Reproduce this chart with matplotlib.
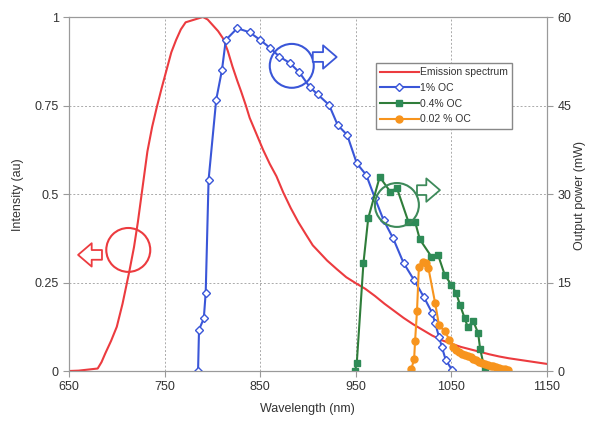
import matplotlib
matplotlib.use("Agg")
import matplotlib.pyplot as plt
import matplotlib.patches as mpatches
from matplotlib.ticker import FuncFormatter

plt.rcParams['font.family'] = ['Liberation Sans', 'DejaVu Sans']

# Emission spectrum (normalised intensity)
em_wl = [650, 660, 670, 680, 684, 688, 694, 700, 706, 713, 718, 722, 727, 732, 737,
         742, 747, 752, 757, 762, 767, 772, 778, 784, 790, 795, 800, 806, 811, 816,
         821, 826, 830, 835, 839, 846, 853, 860, 867, 874, 882, 890, 898, 905, 912,
         920, 930, 940, 950, 960, 970, 980, 990, 1000, 1010, 1020, 1030, 1040, 1050,
         1060, 1070, 1080, 1090, 1100, 1110, 1120, 1130, 1140, 1150]
em_int = [0.0, 0.001, 0.004, 0.007, 0.025, 0.05, 0.085, 0.125, 0.19, 0.28, 0.35, 0.42,
          0.52, 0.62, 0.69, 0.747, 0.80, 0.85, 0.90, 0.935, 0.965, 0.985, 0.99, 0.995,
          1.0, 0.993, 0.978, 0.96, 0.94, 0.905, 0.86, 0.82, 0.79, 0.75, 0.715, 0.67,
          0.625, 0.585, 0.55, 0.505, 0.46, 0.42, 0.385, 0.355, 0.335, 0.312, 0.288,
          0.265, 0.248, 0.232, 0.212, 0.19, 0.17, 0.15, 0.132, 0.116, 0.10, 0.087,
          0.077, 0.068, 0.061, 0.054, 0.047, 0.041, 0.036, 0.032, 0.028, 0.024, 0.02]

# 1% OC output power (mW)
oc1_wl = [785, 786, 791, 793, 796, 804, 810, 814, 826, 839, 850, 860, 870, 881, 891,
          902, 910, 922, 931, 941, 951, 961, 970, 979, 989, 1000, 1011, 1021, 1030,
          1033, 1037, 1040, 1044, 1051]
oc1_pw = [0, 7.0, 8.9, 13.3, 32.4, 46.0, 51.0, 56.1, 58.1, 57.4, 56.1, 54.8, 53.3,
          52.2, 50.6, 48.1, 46.9, 45.1, 41.7, 40.0, 35.2, 33.2, 29.3, 25.6, 22.5, 18.3,
          15.4, 12.6, 9.8, 8.1, 5.8, 4.1, 1.9, 0.1]

# 0.4% OC output power (mW)
oc04_wl = [949, 951, 958, 963, 975, 986, 993, 1005, 1012, 1017, 1029, 1036, 1043,
           1050, 1055, 1059, 1064, 1067, 1073, 1078, 1080, 1085]
oc04_pw = [0, 1.3, 18.3, 25.9, 32.9, 30.4, 31.0, 25.3, 25.3, 22.3, 19.4, 19.7, 16.3,
           14.6, 13.2, 11.2, 8.9, 7.5, 8.4, 6.4, 3.8, 0.1]

# 0.02% OC output power (mW)
oc002_wl = [1008, 1011, 1012, 1014, 1016, 1020, 1023, 1026, 1033, 1037, 1043, 1048,
            1052, 1055, 1058, 1061, 1064, 1067, 1070, 1073, 1076, 1079, 1082, 1085,
            1088, 1091, 1094, 1097, 1100, 1103, 1106, 1109]
oc002_pw = [0.3, 2.0, 5.1, 10.1, 17.7, 18.5, 18.3, 17.4, 11.5, 7.8, 6.7, 5.3, 4.1,
            3.5, 3.2, 2.9, 2.7, 2.5, 2.3, 2.0, 1.8, 1.6, 1.4, 1.2, 1.1, 0.9, 0.8, 0.6,
            0.5, 0.4, 0.3, 0.2]

c_red = '#ec3b3f'
c_blue = '#3a56d8'
c_green = '#2f7d3a'
c_green_m = '#2e8b57'
c_orange = '#f7941d'
c_txt = '#333333'
c_axis = '#9a9a9a'

fig = plt.figure(figsize=(5.89, 4.21), dpi=100)
ax = fig.add_axes([69/589, 1-371/421, 478/589, 354/421])
ax2 = ax.twinx()

l_em, = ax.plot(em_wl, em_int, color=c_red, lw=1.5, label='Emission spectrum')
l1, = ax2.plot(oc1_wl, oc1_pw, color=c_blue, lw=1.5, marker='D', ms=4.5,
               mfc='white', mec=c_blue, mew=1, label='1% OC')
l2, = ax2.plot(oc04_wl, oc04_pw, color=c_green, lw=1.5, marker='s', ms=5,
               mfc=c_green_m, mec=c_green_m, label='0.4% OC')
l3, = ax2.plot(oc002_wl, oc002_pw, color=c_orange, lw=1.5, marker='o', ms=5,
               mfc=c_orange, mec=c_orange, label='0.02 % OC')

ax.set_xlim(650, 1150)
ax.set_ylim(0, 1)
ax2.set_ylim(0, 60)
ax.set_xticks(range(650, 1151, 100))
ax.set_yticks([0, 0.25, 0.5, 0.75, 1])
ax.yaxis.set_major_formatter(FuncFormatter(lambda v, p: '%g' % v))
ax2.set_yticks([0, 15, 30, 45, 60])

for a in (ax, ax2):
    for s in a.spines.values():
        s.set_color(c_axis)
    a.tick_params(colors=c_axis, labelcolor=c_txt, labelsize=9, length=4, direction='out')

for xv in [750, 850, 950, 1050]:
    ax.axvline(xv, color='#aaaaaa', ls=(0, (2, 2)), lw=0.7, zorder=0)
for yv in [0.25, 0.5, 0.75]:
    ax.axhline(yv, color='#aaaaaa', ls=(0, (2, 2)), lw=0.7, zorder=0)

fig.text(307/589, 1-409/421, 'Wavelength (nm)', ha='center', va='center', fontsize=9, color=c_txt)
fig.text(18/589, 1-195/421, 'Intensity (au)', ha='center', va='center', rotation=90,
         fontsize=9, color=c_txt)
fig.text(580/589, 1-195/421, 'Output power (mW)', ha='center', va='center', rotation=90,
         fontsize=9, color=c_txt)

# circles and hollow arrows showing which axis each curve uses
w_circ = 46
h_circ = 0.124
marks = [(712, 0.342, 684.5, 659.5, 0.328, c_red),
         (883, 0.862, 905, 930, 0.887, c_blue),
         (993, 0.469, 1014, 1038, 0.511, '#3d8a5a')]
for cx, cy, xa, xb, ya, col in marks:
    ax2.add_patch(mpatches.Ellipse((cx, cy * 60), w_circ, h_circ * 60, fill=False,
                                   ec=col, lw=1.5, zorder=5))
    ax2.add_patch(mpatches.FancyArrowPatch((xa, ya * 60), (xb, ya * 60),
                                           arrowstyle='simple,head_length=0.7,head_width=1.2,tail_width=0.5',
                                           mutation_scale=14, shrinkA=0, shrinkB=0,
                                           fc='white', ec=col, lw=1.3, zorder=5))

leg = ax2.legend(handles=[l_em, l1, l2, l3], loc='upper left',
                 bbox_to_anchor=((376-69)/478, (371-63)/354), fontsize=7.5,
                 fancybox=False, framealpha=1, edgecolor='#888888',
                 borderpad=0.4, labelspacing=0.55, handlelength=3.7, handletextpad=0.15,
                 borderaxespad=0)
for t in leg.get_texts():
    t.set_color(c_txt)

fig.savefig('out.png', dpi=100)
